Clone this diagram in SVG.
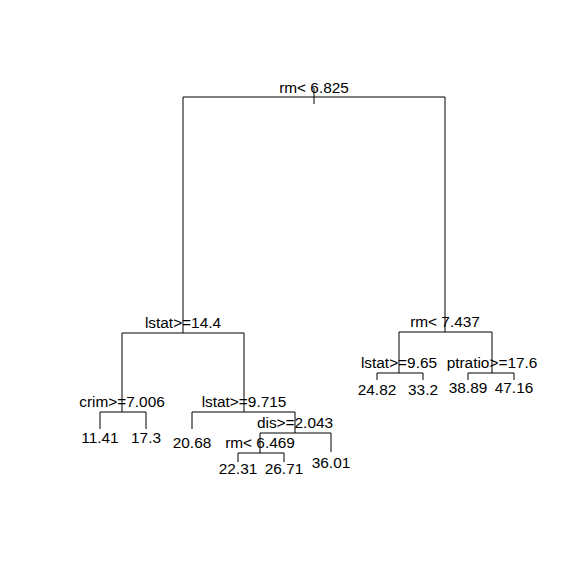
<svg xmlns="http://www.w3.org/2000/svg" width="576" height="576" viewBox="0 0 576 576">
<style>
.e{fill:none;stroke:#000;stroke-width:1}
text{font-family:"Liberation Sans",Arial,sans-serif;font-size:15.4px;fill:#000;text-anchor:middle}
</style>
<rect width="576" height="576" fill="#fff"/>
<g id="connectors" class="e">
<path d="M314,88V104"/>
<path d="M183,333V97H445V332"/>
<path d="M122,412V333H244V412"/>
<path d="M100,429V412H146V429"/>
<path d="M192,429V412H295V433"/>
<path d="M260,453V433H331V452"/>
<path d="M238,462V453H284V462"/>
<path d="M399,373V332H492V373"/>
<path d="M377,380V373H423V380"/>
<path d="M468,380V373H514V380"/>
</g>
<g id="n1"><text x="314" y="93">rm&lt; 6.825</text></g>
<g id="n2"><text x="183" y="328">lstat&gt;=14.4</text></g>
<g id="n3"><text x="445" y="327">rm&lt; 7.437</text></g>
<g id="n4"><text x="122" y="407">crim&gt;=7.006</text></g>
<g id="n5"><text x="244" y="407">lstat&gt;=9.715</text></g>
<g id="n6"><text x="295" y="428">dis&gt;=2.043</text></g>
<g id="n7"><text x="260" y="448">rm&lt; 6.469</text></g>
<g id="n8"><text x="399" y="368">lstat&gt;=9.65</text></g>
<g id="n9"><text x="492" y="368">ptratio&gt;=17.6</text></g>
<g id="l1"><text x="100" y="443">11.41</text></g>
<g id="l2"><text x="146" y="443">17.3</text></g>
<g id="l3"><text x="192" y="448">20.68</text></g>
<g id="l4"><text x="238" y="474">22.31</text></g>
<g id="l5"><text x="284" y="474">26.71</text></g>
<g id="l6"><text x="331" y="468">36.01</text></g>
<g id="l7"><text x="377" y="395">24.82</text></g>
<g id="l8"><text x="423" y="395">33.2</text></g>
<g id="l9"><text x="468" y="393">38.89</text></g>
<g id="l10"><text x="514" y="393">47.16</text></g>
</svg>
